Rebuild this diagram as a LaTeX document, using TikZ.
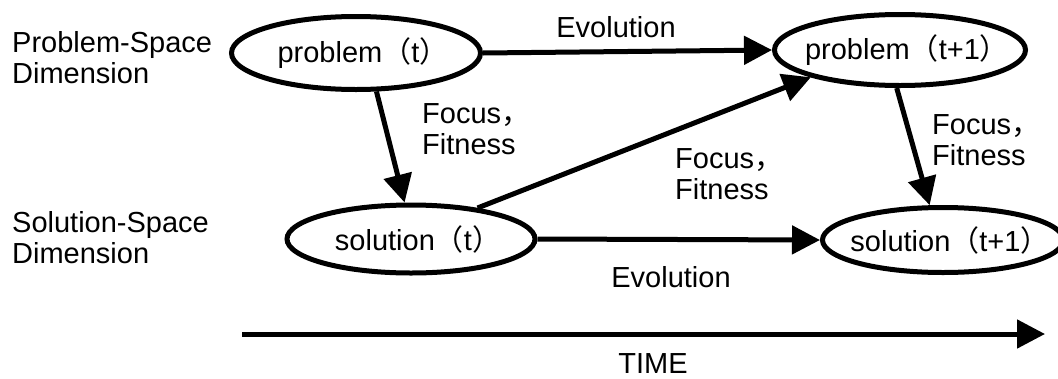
\documentclass[tikz,border=0pt]{standalone}
\usepackage{fontspec}
\setmainfont{Liberation Sans}
\newfontfamily\cjk{Noto Sans CJK SC}
\usetikzlibrary{shapes.geometric,arrows.meta}
\newcommand\lpar{{\cjk （}}
\newcommand\rpar{{\cjk ）}}
\newcommand\fcomma{{\cjk ，}}
\newcommand\zbox[1]{\makebox[0pt]{\kern14pt#1}}
\begin{document}
\begin{tikzpicture}[x=1pt,y=-1pt,
  font=\fontsize{29}{31}\selectfont,
  ell/.style={ellipse, draw, line width=5pt, inner sep=0pt},
  arr/.style={line width=5pt, -{Triangle[length=28pt,width=28pt]}},
  lbl/.style={align=left, inner sep=0pt, anchor=west},
  clbl/.style={inner sep=0pt}]
\clip (0,0) rectangle (1058,378);
\node[ell, minimum width=249pt, minimum height=73pt] (pt) at (356,53) {\zbox{problem\lpar t\rpar}};
\node[ell, minimum width=251pt, minimum height=71pt] (pt1) at (900,50) {\zbox{problem\lpar t+1\rpar}};
\node[ell, minimum width=248pt, minimum height=68pt] (st) at (411,239) {\zbox{solution\lpar t\rpar}};
\node[ell, minimum width=241pt, minimum height=65pt] (st1) at (943,240) {\zbox{solution\lpar t+1\rpar}};

\node[lbl] (psd) at (12,58) {Problem-Space\\Dimension};
\node[lbl] (ssd) at (12,238) {Solution-Space\\Dimension};

\draw[arr] (pt.east) -- (pt1.west);
\draw[arr] (pt.-62) -- (st.100);
\draw[arr] (st.25) -- (pt1.197);
\draw[arr] (st.east) -- (st1.west);
\draw[arr] (pt1.-95) -- (st1.111);

\node[clbl] (evo1) at (616,27) {Evolution};
\node[lbl] (ff1) at (422,129) {Focus\fcomma\\Fitness};
\node[lbl] (ff2) at (675,174) {Focus\fcomma\\Fitness};
\node[lbl] (ff3) at (932,140) {Focus\fcomma\\Fitness};
\node[clbl] (evo2) at (671,277) {Evolution};

\coordinate (ts) at (242,334);
\coordinate (te) at (1045,334);
\draw[arr] (ts) -- (te);
\node[clbl, anchor=base] (time) at (653,373) {TIME};
\end{tikzpicture}
\end{document}
